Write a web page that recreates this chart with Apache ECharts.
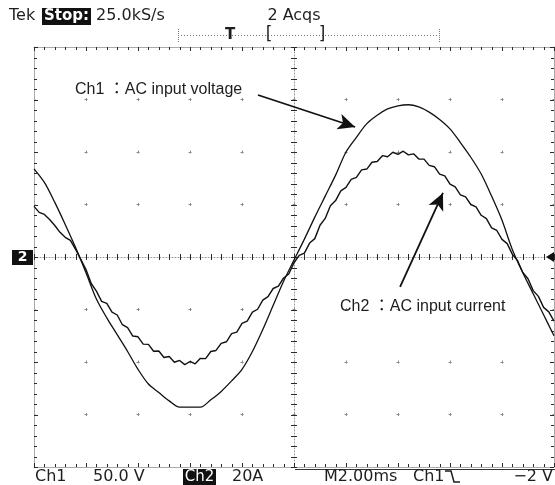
<!DOCTYPE html>
<html>
<head>
<meta charset="UTF-8">
<title>AC input voltage / current</title>
<script src="https://cdn.jsdelivr.net/npm/echarts@6/dist/echarts.min.js"></script>
<style>
  html, body { margin: 0; padding: 0; background: #fff; }
  #main { width: 555px; height: 485px; }
</style>
</head>
<body>
<div id="main"></div>
<script>
// sampling of the two traces (ms), screen runs -10 .. +10 ms (2 ms/div)
var timeStart = -10;
var stepCh1 = 0.4;
var stepCh2 = 0.2;

// Ch1 : AC input voltage (V), 50 V/div
var ch1Volts = [84, 71, 52, 31, 9, -15, -40, -58, -74, -90,
  -107, -121, -129, -137, -143, -143, -143, -136, -128, -118,
  -107, -90, -69, -46, -23, -3, 17, 38, 58, 78,
  100, 114, 127, 135, 141, 144, 145, 143, 138, 131,
  122, 109, 95, 79, 58, 35, 7, -15, -35, -55,
  -75];

// Ch2 : AC input current (A), 20 A/div
var ch2Amps = [19.3, 17.0, 16.2, 14.3, 12.0, 9.4, 7.5, 6.3, 2.9, -0.9,
  -4.8, -10.1, -13.0, -16.9, -17.7, -21.0, -22.1, -25.8, -26.9, -30.1,
  -30.4, -33.2, -33.3, -35.9, -35.8, -38.3, -37.9, -40.1, -39.4, -41.0,
  -39.8, -40.7, -38.6, -38.7, -36.0, -35.6, -32.9, -32.3, -29.2, -28.6,
  -25.3, -24.4, -21.0, -19.9, -16.4, -15.1, -12.0, -11.1, -8.0, -6.5,
  -2.2, 0.6, 1.5, 5.3, 7.0, 12.1, 14.7, 19.5, 21.5, 25.2,
  26.5, 29.6, 30.3, 33.2, 33.5, 36.1, 36.4, 38.6, 38.2, 39.9,
  39.1, 40.3, 38.9, 39.3, 37.3, 37.3, 34.9, 34.4, 31.6, 30.9,
  27.8, 26.7, 23.7, 22.9, 20.0, 19.1, 15.9, 14.6, 11.1, 10.1,
  6.7, 5.1, 1.0, -1.4, -5.9, -8.3, -12.8, -15.0, -19.2, -20.9,
  -24.4];

var ch1Data = ch1Volts.map(function (v, i) { return [+(timeStart + i * stepCh1).toFixed(2), v]; });
var ch2Data = ch2Amps.map(function (v, i) { return [+(timeStart + i * stepCh2).toFixed(2), v]; });

// graticule tick positions: 5 minor ticks per division
var timeTicks = [];
for (var i = 0; i <= 50; i++) timeTicks.push([+(-10 + i * 0.4).toFixed(2), 0]);
var levelTicks = [];
for (var j = 0; j <= 40; j++) levelTicks.push([0, -200 + j * 10]);

var ink = '#1e1e1e';
var scopeFont = '"DejaVu Sans", sans-serif';
var noteFont = '16px "Liberation Sans", "Noto Sans CJK TC", sans-serif';

function isWhole(x) { return Math.abs(x - Math.round(x)) < 1e-6; }

function tickLine(x1, y1, x2, y2) {
  return { type: 'line', shape: { x1: x1, y1: y1, x2: x2, y2: y2 }, style: { stroke: '#2a2a2a', lineWidth: 1 } };
}

function renderTimeTick(params, api) {
  var t = api.value(0);
  var hi = api.coord([t, 200]), lo = api.coord([t, -200]), mid = api.coord([t, 0]);
  var x = Math.round(hi[0]) + 0.5;
  var len = isWhole(t / 2) ? 4 : 3;
  return {
    type: 'group', children: [
      tickLine(x, hi[1], x, hi[1] + len),
      tickLine(x, lo[1], x, lo[1] - len),
      tickLine(x, mid[1] - 3, x, mid[1] + 3)
    ]
  };
}

function renderLevelTick(params, api) {
  var v = api.value(1);
  var l = api.coord([-10, v]), r = api.coord([10, v]), mid = api.coord([0, v]);
  var y = Math.round(l[1]) + 0.5;
  var len = isWhole(v / 50) ? 4 : 3;
  return {
    type: 'group', children: [
      tickLine(l[0], y, l[0] + len, y),
      tickLine(r[0], y, r[0] - len, y),
      tickLine(mid[0] - 3, y, mid[0] + 3, y)
    ]
  };
}

function frameAxis(range, interval, position, onZero) {
  return {
    type: 'value', min: -range, max: range, interval: interval, position: position,
    axisLine: {
      show: true, onZero: onZero, onZeroAxisIndex: 0,
      lineStyle: onZero ? { color: '#999', type: [1, 2], width: 1 } : { color: '#aaa', width: 1 }
    },
    axisTick: { show: false },
    axisLabel: { show: false },
    splitLine: { show: false }
  };
}

function txt(text, x, y, font, fill, align) {
  return {
    type: 'text', x: x, y: y, z: 10,
    style: {
      text: text, font: font, fill: fill || ink,
      align: align || 'left', textAlign: align || 'left',
      verticalAlign: 'middle', textVerticalAlign: 'middle'
    }
  };
}

function seg(x1, y1, x2, y2, stroke, dash) {
  return {
    type: 'line', z: 10,
    shape: { x1: x1, y1: y1, x2: x2, y2: y2 },
    style: { stroke: stroke || ink, lineWidth: 1, lineDash: dash || null }
  };
}

// frame axes (bottom / top, left / right) and the dotted centre lines
var xAxes = [frameAxis(10, 2, 'bottom', false), frameAxis(10, 2, 'top', false), frameAxis(10, 2, 'bottom', true)];
xAxes[0].splitLine = { show: true, lineStyle: { color: '#888', width: 1, type: [3, 49.5], dashOffset: 1.5 } };

var yAxes = [frameAxis(200, 50, 'left', false), frameAxis(80, 20, 'right', false), frameAxis(200, 50, 'left', true)];
yAxes[0].splitLine = { show: true, lineStyle: { color: '#888', width: 1, type: [3, 49], dashOffset: 1.5 } };

var arrowStyle = {
  silent: true, animation: false,
  symbol: ['none', 'arrow'], symbolSize: [12, 17],
  label: { show: false },
  emphasis: { disabled: true },
  lineStyle: { color: '#111', width: 1.8, type: 'solid' }
};

var chart = echarts.init(document.getElementById('main'), null, { renderer: 'canvas' });
chart.setOption({
  animation: false,
  backgroundColor: '#fff',
  grid: { left: 34, right: 1, top: 47, bottom: 18, containLabel: false, outerBoundsMode: 'none' },
  xAxis: xAxes,
  yAxis: yAxes,
  series: [
    {
      name: 'time ticks', type: 'custom', data: timeTicks, xAxisIndex: 0, yAxisIndex: 0,
      renderItem: renderTimeTick, silent: true, clip: false, z: 3
    },
    {
      name: 'level ticks', type: 'custom', data: levelTicks, xAxisIndex: 0, yAxisIndex: 0,
      renderItem: renderLevelTick, silent: true, clip: false, z: 3
    },
    {
      name: 'Ch1', type: 'line', data: ch1Data, xAxisIndex: 0, yAxisIndex: 0,
      symbol: 'none', smooth: 0.3, silent: true, z: 5,
      lineStyle: { color: '#111', width: 1.3 },
      markLine: Object.assign({}, arrowStyle, {
        data: [[{ coord: [-1.385, 154.3] }, { coord: [2.35, 123.8] }]]
      })
    },
    {
      name: 'Ch2', type: 'line', data: ch2Data, xAxisIndex: 0, yAxisIndex: 1,
      symbol: 'none', silent: true, z: 5,
      lineStyle: { color: '#111', width: 1.4 },
      markLine: Object.assign({}, arrowStyle, {
        data: [[{ coord: [4.08, -11.4] }, { coord: [5.73, 24.4] }]]
      })
    }
  ],
  graphic: [
    // top readout
    txt('Tek', 9, 16, '16px ' + scopeFont),
    { type: 'rect', z: 10, shape: { x: 42, y: 8, width: 49, height: 17 }, style: { fill: '#111' } },
    txt('Stop:', 44, 16.5, 'bold 15px ' + scopeFont, '#fff'),
    txt('25.0kS/s', 96, 16, '16px ' + scopeFont),
    txt('2 Acqs', 294, 16, '16px ' + scopeFont, ink, 'center'),
    // record bar
    seg(178, 35.5, 439, 35.5, '#777', [1, 2]),
    seg(178.5, 29, 178.5, 42, '#777', [1, 1]),
    seg(439.5, 29, 439.5, 42, '#777', [1, 1]),
    txt('T', 230, 35, 'bold 15px ' + scopeFont, ink, 'center'),
    txt('[', 269, 35, '17px ' + scopeFont, ink, 'center'),
    txt(']', 322, 35, '17px ' + scopeFont, ink, 'center'),
    // ground marker and trigger level marker
    { type: 'rect', z: 10, shape: { x: 12, y: 250, width: 21, height: 15 }, style: { fill: '#111' } },
    txt('2', 22.5, 257.5, 'bold 14px ' + scopeFont, '#fff', 'center'),
    { type: 'polygon', z: 10, shape: { points: [[546, 257], [554, 252], [554, 262]] }, style: { fill: '#111' } },
    // annotations
    txt('Ch1 \uFF1AAC input voltage', 75, 90, noteFont),
    txt('Ch2 \uFF1AAC input current', 340, 307, noteFont),
    // bottom readout
    seg(295, 469.5, 555, 469.5, '#333'),
    txt('Ch1', 35, 477, '16px ' + scopeFont),
    txt('50.0 V', 93, 477, '16px ' + scopeFont),
    { type: 'rect', z: 10, shape: { x: 183, y: 469, width: 33, height: 16 }, style: { fill: '#111' } },
    txt('Ch2', 199.5, 477.5, '15px ' + scopeFont, '#fff', 'center'),
    txt('20A', 232, 477, '16px ' + scopeFont),
    txt('M2.00ms', 324, 477, '16px ' + scopeFont),
    txt('Ch1', 413, 477, '16px ' + scopeFont),
    { type: 'polyline', z: 10, shape: { points: [[445, 471], [451, 471], [454, 482], [460, 482]] },
      style: { stroke: ink, lineWidth: 1.5, fill: null } },
    txt('\u22122 V', 553, 477, '16px ' + scopeFont, ink, 'right')
  ]
});
</script>
</body>
</html>
